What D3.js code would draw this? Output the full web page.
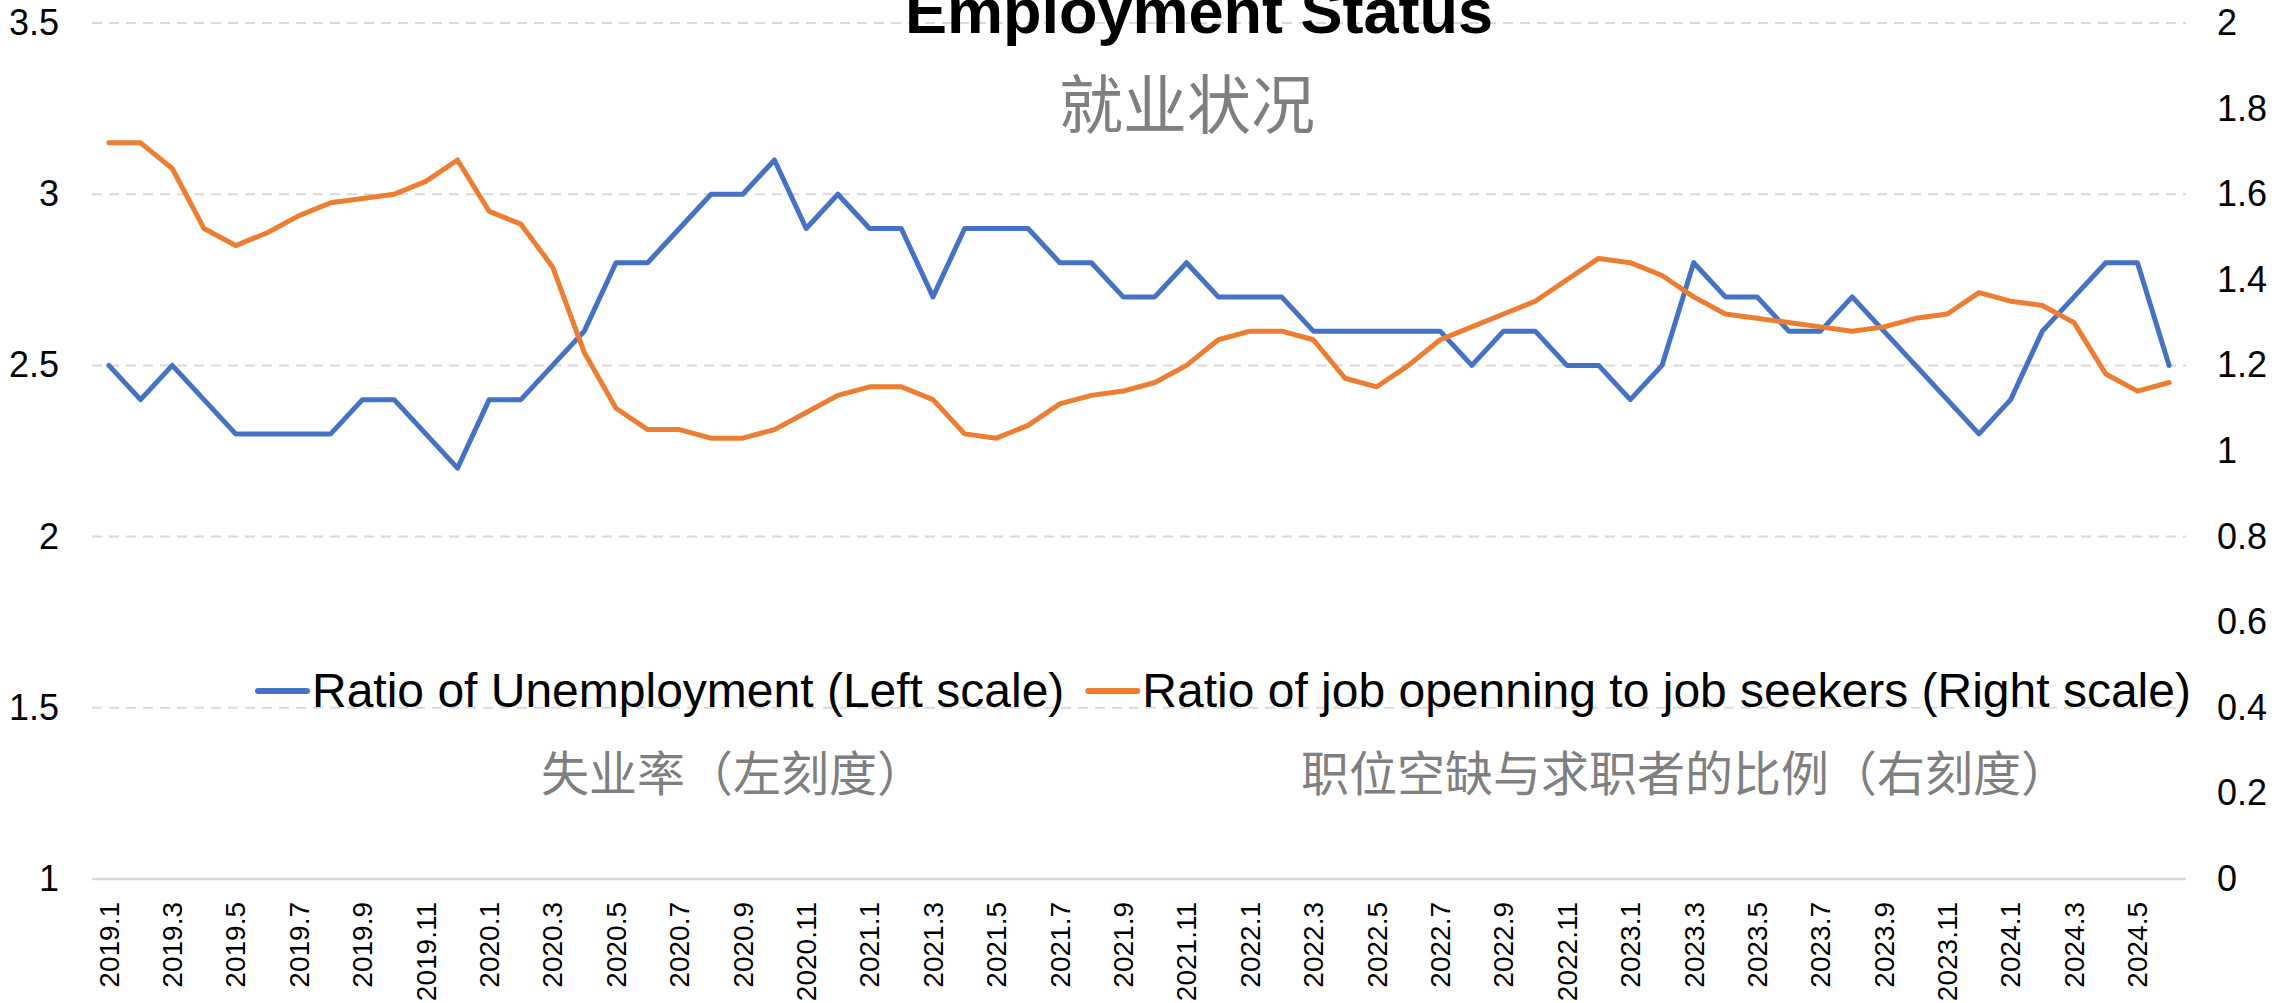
<!DOCTYPE html>
<html>
<head>
<meta charset="utf-8">
<script src="https://cdn.jsdelivr.net/npm/d3@7"></script>
<style>
  body { margin: 0; background: #fff; }
  svg { display: block; }
  text { font-family: "Liberation Sans", Arial, sans-serif; }
  .cjk { font-family: "Noto Sans CJK SC", sans-serif; }
</style>
</head>
<body>
<svg id="chart"></svg>
<script>
const categories = [
  "2019.1","2019.2","2019.3","2019.4","2019.5","2019.6","2019.7","2019.8","2019.9","2019.10","2019.11","2019.12",
  "2020.1","2020.2","2020.3","2020.4","2020.5","2020.6","2020.7","2020.8","2020.9","2020.10","2020.11","2020.12",
  "2021.1","2021.2","2021.3","2021.4","2021.5","2021.6","2021.7","2021.8","2021.9","2021.10","2021.11","2021.12",
  "2022.1","2022.2","2022.3","2022.4","2022.5","2022.6","2022.7","2022.8","2022.9","2022.10","2022.11","2022.12",
  "2023.1","2023.2","2023.3","2023.4","2023.5","2023.6","2023.7","2023.8","2023.9","2023.10","2023.11","2023.12",
  "2024.1","2024.2","2024.3","2024.4","2024.5","2024.6"
];
const unemployment = [
  2.5,2.4,2.5,2.4,2.3,2.3,2.3,2.3,2.4,2.4,2.3,2.2,
  2.4,2.4,2.5,2.6,2.8,2.8,2.9,3.0,3.0,3.1,2.9,3.0,
  2.9,2.9,2.7,2.9,2.9,2.9,2.8,2.8,2.7,2.7,2.8,2.7,
  2.7,2.7,2.6,2.6,2.6,2.6,2.6,2.5,2.6,2.6,2.5,2.5,
  2.4,2.5,2.8,2.7,2.7,2.6,2.6,2.7,2.6,2.5,2.4,2.3,
  2.4,2.6,2.7,2.8,2.8,2.5
];
const jobRatio = [
  1.72,1.72,1.66,1.52,1.48,1.51,1.55,1.58,1.59,1.60,1.63,1.68,
  1.56,1.53,1.43,1.23,1.10,1.05,1.05,1.03,1.03,1.05,1.09,1.13,
  1.15,1.15,1.12,1.04,1.03,1.06,1.11,1.13,1.14,1.16,1.20,1.26,
  1.28,1.28,1.26,1.17,1.15,1.20,1.26,1.29,1.32,1.35,1.40,1.45,
  1.44,1.41,1.36,1.32,1.31,1.30,1.29,1.28,1.29,1.31,1.32,1.37,
  1.35,1.34,1.30,1.18,1.14,1.16
];
const leftTicks = [1, 1.5, 2, 2.5, 3, 3.5];
const rightTicks = [0, 0.2, 0.4, 0.6, 0.8, 1, 1.2, 1.4, 1.6, 1.8, 2];
const xTickLabels = categories.filter((d, i) => i % 2 === 0);

const seriesNames = ["Ratio of Unemployment (Left scale)", "Ratio of job openning to job seekers (Right scale)"];
const seriesNamesZh = ["失业率（左刻度）", "职位空缺与求职者的比例（右刻度）"];
const colors = ["#4472C4", "#ED7D31"];

const width = 2279, height = 1003;
const plotLeft = 93, plotRight = 2185, plotTop = 23, plotBottom = 879;

const svg = d3.select("#chart").attr("width", width).attr("height", height);

const x = d3.scaleBand().domain(categories).range([plotLeft, plotRight]);
const yL = d3.scaleLinear().domain([1, 3.5]).range([plotBottom, plotTop]);
const yR = d3.scaleLinear().domain([0, 2]).range([plotBottom, plotTop]);
const cx = d => x(d) + x.bandwidth() / 2;

// gridlines
svg.append("g").selectAll("line").data(leftTicks.slice(1)).enter().append("line")
  .attr("x1", plotLeft - 1).attr("x2", plotRight + 1)
  .attr("y1", d => yL(d)).attr("y2", d => yL(d))
  .attr("stroke", "#d9d9d9").attr("stroke-width", 2).attr("stroke-dasharray", "10,7");
svg.append("line").attr("x1", plotLeft - 1).attr("x2", plotRight + 1)
  .attr("y1", plotBottom).attr("y2", plotBottom)
  .attr("stroke", "#d9d9d9").attr("stroke-width", 2.5);

// y axes
const gL = svg.append("g").attr("transform", `translate(${plotLeft},0)`)
  .call(d3.axisLeft(yL).tickValues(leftTicks).tickFormat(d => String(d)).tickSize(0).tickPadding(34));
const gR = svg.append("g").attr("transform", `translate(${plotRight},0)`)
  .call(d3.axisRight(yR).tickValues(rightTicks).tickFormat(d => String(+d.toFixed(1))).tickSize(0).tickPadding(32));
[gL, gR].forEach(g => {
  g.select(".domain").remove();
  g.selectAll("text").attr("font-size", 36).attr("fill", "#000")
    .attr("font-family", "'Liberation Sans', Arial, sans-serif");
});

// x axis
const gX = svg.append("g").attr("transform", `translate(0,${plotBottom})`)
  .call(d3.axisBottom(x).tickValues(xTickLabels).tickSize(0));
gX.select(".domain").remove();
gX.selectAll("text")
  .attr("transform", "rotate(-90)")
  .attr("x", -23).attr("y", 0).attr("dy", "0.35em")
  .attr("text-anchor", "end")
  .attr("font-size", 28).attr("fill", "#000")
  .attr("font-family", "'Liberation Sans', Arial, sans-serif");

// lines
const lineL = d3.line().x((d, i) => cx(categories[i])).y(d => yL(d));
const lineR = d3.line().x((d, i) => cx(categories[i])).y(d => yR(d));
svg.append("path").datum(unemployment).attr("d", lineL)
  .attr("fill", "none").attr("stroke", colors[0]).attr("stroke-width", 5)
  .attr("stroke-linejoin", "round").attr("stroke-linecap", "round");
svg.append("path").datum(jobRatio).attr("d", lineR)
  .attr("fill", "none").attr("stroke", colors[1]).attr("stroke-width", 5)
  .attr("stroke-linejoin", "round").attr("stroke-linecap", "round");

// title (clipped at the top edge, as in the source image)
svg.append("text").attr("x", 1199).attr("y", 33).attr("text-anchor", "middle")
  .attr("font-size", 63).attr("font-weight", "bold").attr("fill", "#000")
  .text("Employment Status");
svg.append("text").attr("class", "cjk").attr("x", 1187).attr("y", 100)
  .attr("text-anchor", "middle").attr("dominant-baseline", "central")
  .attr("font-size", 64).attr("fill", "#7f7f7f").text("就业状况");

// legend
const legend = svg.append("g");
let lx = 255;
const ly = 691;
seriesNames.forEach((name, i) => {
  legend.append("line").attr("x1", lx + 3).attr("x2", lx + 52).attr("y1", ly).attr("y2", ly)
    .attr("stroke", colors[i]).attr("stroke-width", 6).attr("stroke-linecap", "round");
  const t = legend.append("text").attr("x", lx + 57).attr("y", ly + 16)
    .attr("font-size", 48).attr("fill", "#000").text(name);
  lx += 57 + t.node().getComputedTextLength() + 21;
});

// chinese legend labels
const zhX = [541, 1301];
seriesNamesZh.forEach((name, i) => {
  svg.append("text").attr("class", "cjk").attr("x", zhX[i]).attr("y", 770)
    .attr("dominant-baseline", "central")
    .attr("font-size", 48).attr("fill", "#7f7f7f").text(name);
});
</script>
</body>
</html>
